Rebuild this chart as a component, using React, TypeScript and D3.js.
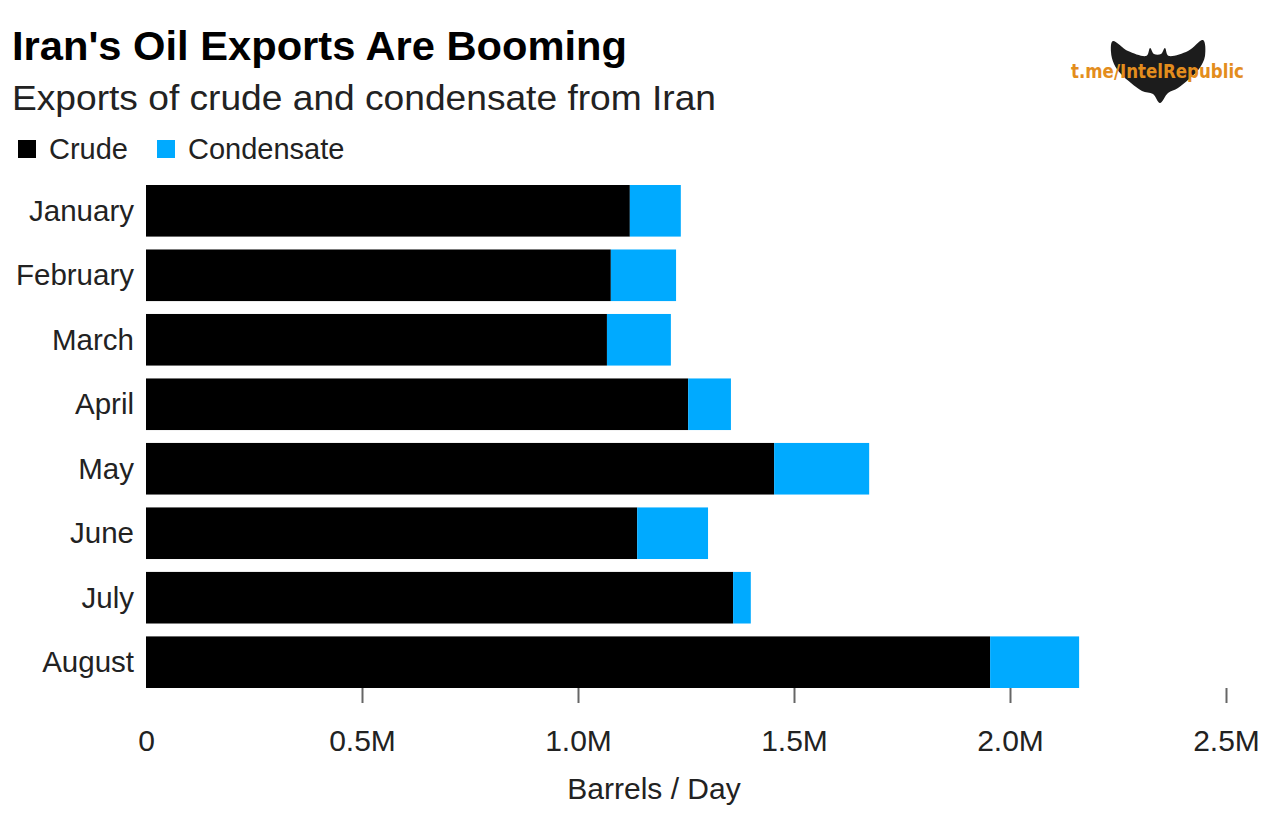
import React, { useEffect, useRef } from "react";
import * as d3 from "d3";

const months = ["January", "February", "March", "April", "May", "June", "July", "August"];
// barrels per day
const crude = [1120000, 1076000, 1067000, 1255000, 1454000, 1137000, 1359000, 1954000];
const condensate = [118000, 151000, 148000, 99000, 220000, 164000, 41000, 206000];
const seriesNames = ["Crude", "Condensate"];
const tickValues = [0, 500000, 1000000, 1500000, 2000000, 2500000];

const font = "'Liberation Sans', Arial, Helvetica, sans-serif";
const colors = { Crude: "#000000", Condensate: "#00aaff" };

function App() {
  const ref = useRef<SVGSVGElement>(null);

  useEffect(() => {
    const width = 1280;
    const height = 820;
    const margin = { top: 185, left: 146, bottom: 132, right: 54 };

    const svg = d3.select(ref.current);
    svg.selectAll("*").remove();

    const rows = months.map((m, i) => ({ month: m, Crude: crude[i], Condensate: condensate[i] }));

    const x = d3.scaleLinear()
      .domain([0, 2500000])
      .range([margin.left, width - margin.right]);

    const y = d3.scaleBand()
      .domain(months)
      .range([margin.top, height - margin.bottom])
      .paddingInner(0.2)
      .paddingOuter(0);

    const stack = d3.stack<any>().keys(seriesNames);
    const layers = stack(rows);

    // title block
    svg.append("text")
      .attr("x", 12).attr("y", 60)
      .attr("font-family", font).attr("font-weight", "bold").attr("font-size", 40)
      .attr("textLength", 615).attr("lengthAdjust", "spacingAndGlyphs")
      .attr("fill", "#000")
      .text("Iran's Oil Exports Are Booming");

    svg.append("text")
      .attr("x", 12).attr("y", 110)
      .attr("font-family", font).attr("font-size", 35)
      .attr("textLength", 704).attr("lengthAdjust", "spacingAndGlyphs")
      .attr("fill", "#222")
      .text("Exports of crude and condensate from Iran");

    // legend
    const legendX = [18, 157];
    const legend = svg.append("g");
    seriesNames.forEach((name, i) => {
      legend.append("rect")
        .attr("x", legendX[i]).attr("y", 140)
        .attr("width", 18).attr("height", 18)
        .attr("fill", colors[name]);
      legend.append("text")
        .attr("x", legendX[i] + 31).attr("y", 159)
        .attr("font-family", font).attr("font-size", 29)
        .attr("fill", "#222")
        .text(name);
    });

    // bars
    svg.append("g")
      .selectAll("g")
      .data(layers)
      .enter()
      .append("g")
      .attr("fill", d => colors[d.key])
      .selectAll("rect")
      .data(d => d)
      .enter()
      .append("rect")
      .attr("x", d => x(d[0]))
      .attr("y", d => y(d.data.month) as number)
      .attr("width", d => x(d[1]) - x(d[0]))
      .attr("height", y.bandwidth());

    // month labels
    svg.append("g")
      .selectAll("text")
      .data(months)
      .enter()
      .append("text")
      .attr("x", 134)
      .attr("y", d => (y(d) as number) + y.bandwidth() / 2)
      .attr("dy", "0.34em")
      .attr("text-anchor", "end")
      .attr("font-family", font).attr("font-size", 29.5)
      .attr("fill", "#222")
      .text(d => d);

    // x axis
    const xAxis = g => g
      .attr("transform", `translate(0, ${height - margin.bottom})`)
      .call(d3.axisBottom(x)
        .tickValues(tickValues)
        .tickSize(15)
        .tickFormat(d => (+d === 0 ? "0" : (+d / 1e6).toFixed(1) + "M")))
      .call(g => g.select(".domain").remove())
      .call(g => g.selectAll(".tick line").attr("stroke", "#666").attr("stroke-width", 2)
        .attr("opacity", d => (+d === 0 ? 0 : 1)))
      .call(g => g.selectAll(".tick text")
        .attr("y", 63).attr("dy", 0)
        .attr("font-family", font).attr("font-size", 30)
        .attr("fill", "#222"));
    svg.append("g").call(xAxis);

    svg.append("text")
      .attr("x", (x(0) + x(2500000)) / 2 - 32).attr("y", 799)
      .attr("text-anchor", "middle")
      .attr("font-family", font).attr("font-size", 30)
      .attr("fill", "#222")
      .text("Barrels / Day");

    // watermark
    const bat = [
      [1113, 41], [1128, 51], [1146, 56], [1150, 48], [1154, 54], [1161, 54], [1165, 48], [1169, 56],
      [1188, 51], [1203, 40], [1205, 56], [1199, 69], [1189, 79], [1178, 88], [1168, 93], [1160, 103],
      [1153, 94], [1142, 91], [1131, 83], [1121, 74], [1114, 64], [1111, 52],
    ];
    svg.append("path")
      .attr("d", d3.line().curve(d3.curveCatmullRomClosed.alpha(0.2))(bat as [number, number][]))
      .attr("fill", "#1c1c1c");
    svg.append("text")
      .attr("x", 1071).attr("y", 78)
      .attr("font-family", "'DejaVu Sans', sans-serif").attr("font-weight", "bold").attr("font-size", 19)
      .attr("textLength", 173).attr("lengthAdjust", "spacingAndGlyphs")
      .attr("fill", "#e38d1d")
      .text("t.me/IntelRepublic");
  }, []);

  return (
    <div id="chartContainer">
      <svg
        ref={ref}
        width={1280}
        height={820}
        style={{ position: "absolute", left: 0, top: 0, background: "#fff" }}
      />
    </div>
  );
}

export default App;
